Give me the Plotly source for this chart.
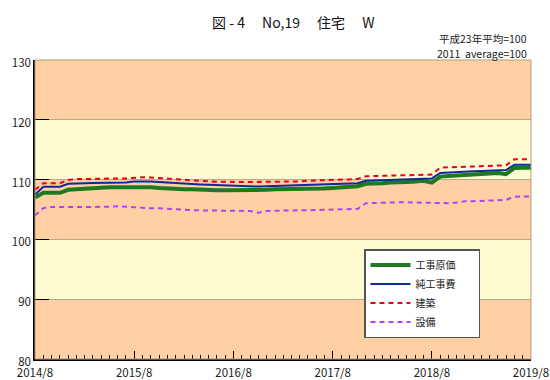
import plotly.graph_objects as go
import pandas as pd

months = pd.date_range("2014-08-01", periods=61, freq="MS")

koji_genka = [107.0, 107.8, 107.8, 107.8, 108.3, 108.4, 108.5, 108.6, 108.7, 108.7,
              108.7, 108.7, 108.8, 108.7, 108.7, 108.6, 108.5, 108.5, 108.4, 108.4,
              108.3, 108.3, 108.2, 108.2, 108.2, 108.2, 108.2, 108.3, 108.3, 108.4,
              108.4, 108.45, 108.4, 108.35, 108.4, 108.5, 108.6, 108.7, 108.8, 108.9,
              109.3, 109.3, 109.4, 109.5, 109.5, 109.6, 109.7, 109.8, 109.5, 110.5,
              110.6, 110.7, 110.8, 110.8, 110.9, 111.0, 111.1, 110.9, 111.95, 112.0,
              112.0]
jun_kojihi = [107.5, 108.8, 108.8, 108.8, 109.3, 109.4, 109.4, 109.45, 109.45, 109.5,
              109.5, 109.5, 109.7, 109.75, 109.7, 109.6, 109.5, 109.4, 109.35, 109.3,
              109.2, 109.15, 109.1, 109.0, 108.95, 108.9, 108.85, 108.85, 108.9, 108.95,
              109.0, 108.95, 109.0, 109.05, 109.1, 109.15, 109.2, 109.3, 109.35, 109.4,
              109.8, 109.85, 109.9, 110.0, 110.05, 110.1, 110.2, 110.2, 110.2, 111.1,
              111.2, 111.25, 111.3, 111.4, 111.45, 111.5, 111.6, 111.6, 112.5, 112.5,
              112.5]
kenchiku = [108.3, 109.4, 109.4, 109.4, 109.95, 110.1, 110.1, 110.15, 110.15, 110.2,
            110.2, 110.2, 110.35, 110.4, 110.35, 110.25, 110.1, 110.0, 109.9, 109.85,
            109.75, 109.7, 109.65, 109.6, 109.6, 109.6, 109.6, 109.6, 109.6, 109.6,
            109.6, 109.6, 109.7, 109.8, 109.85, 109.9, 109.95, 110.0, 110.0, 110.1,
            110.55, 110.6, 110.65, 110.7, 110.75, 110.8, 110.85, 110.85, 110.85, 112.0,
            112.05, 112.1, 112.2, 112.25, 112.3, 112.35, 112.4, 112.4, 113.4, 113.4,
            113.4]
setsubi = [104.0, 105.25, 105.4, 105.4, 105.4, 105.4, 105.4, 105.4, 105.4, 105.45,
           105.55, 105.45, 105.3, 105.25, 105.2, 105.2, 105.1, 105.0, 104.95, 104.9,
           104.85, 104.8, 104.8, 104.8, 104.8, 104.8, 104.75, 104.45, 104.75, 104.8,
           104.8, 104.8, 104.85, 104.85, 104.9, 104.95, 105.0, 105.05, 105.05, 105.1,
           106.05, 106.1, 106.2, 106.2, 106.2, 106.2, 106.15, 106.15, 106.05, 106.05,
           106.05, 106.15, 106.4, 106.4, 106.45, 106.6, 106.6, 106.6, 107.15, 107.2,
           107.2]

series_names = ["工事原価", "純工事費", "建築", "設備"]
x_tick_dates = ["2014-08-01", "2015-08-01", "2016-08-01", "2017-08-01", "2018-08-01", "2019-08-01"]
x_tick_labels = ["2014/8", "2015/8", "2016/8", "2017/8", "2018/8", "2019/8"]
y_ticks = [80, 90, 100, 110, 120, 130]
title_text = "図 - 4\u3000 No,19\u3000 住宅\u3000 W"
note_line1 = "平成23年平均=100"
note_line2 = "2011\u00a0\u00a0average=100"

PEACH = "#fed0a3"
YELLOW = "#fefbd0"
pad = "\u00a0" * 8
font_main = "Noto Sans CJK JP, Noto Sans, sans-serif"

fig = go.Figure()
fig.add_trace(go.Scatter(x=months, y=koji_genka, mode="lines", name=series_names[0] + pad,
                         line=dict(color="#1f7a1f", width=4)))
fig.add_trace(go.Scatter(x=months, y=jun_kojihi, mode="lines", name=series_names[1] + pad,
                         line=dict(color="#0b2a9c", width=2)))
fig.add_trace(go.Scatter(x=months, y=kenchiku, mode="lines", name=series_names[2] + pad,
                         line=dict(color="#e6001a", width=2, dash="5px,4px")))
fig.add_trace(go.Scatter(x=months, y=setsubi, mode="lines", name=series_names[3] + pad,
                         line=dict(color="#b040f5", width=2, dash="5px,4px")))

shapes = []
for lo, hi in [(90, 100), (110, 120)]:
    shapes.append(dict(type="rect", xref="paper", yref="y", x0=0, x1=1, y0=lo, y1=hi,
                       fillcolor=YELLOW, line=dict(width=0), layer="below"))
shapes.append(dict(type="rect", xref="paper", yref="paper", x0=0, x1=1, y0=0, y1=1,
                   fillcolor="rgba(0,0,0,0)", line=dict(color="#b89a80", width=1), layer="above"))

W0, W1, H0, H1 = 35, 531, 60, 359
def px(xp):
    return (xp - W0) / (W1 - W0)
def py(yp):
    return (H1 - yp) / (H1 - H0)

fig.update_layout(
    width=550, height=380,
    margin=dict(l=W0, r=550 - W1, t=H0, b=380 - H1, autoexpand=False),
    paper_bgcolor="white",
    plot_bgcolor=PEACH,
    font=dict(family=font_main, size=11, color="#222"),
    shapes=shapes,
    showlegend=True,
    legend=dict(x=px(364), y=py(249), xanchor="left", yanchor="top",
                bgcolor="white", bordercolor="#555", borderwidth=1.5,
                font=dict(size=10, color="#222", family=font_main),
                itemwidth=40, tracegroupgap=0),
    annotations=[
        dict(text=title_text, x=px(293), y=py(22), xref="paper", yref="paper",
             xanchor="center", yanchor="middle", showarrow=False,
             font=dict(size=14, color="#111", family=font_main)),
        dict(text=note_line1, xref="paper", yref="paper", x=px(529), y=py(38),
             xanchor="right", yanchor="middle", align="right", showarrow=False,
             font=dict(size=10.5, color="#222", family=font_main)),
        dict(text=note_line2, xref="paper", yref="paper", x=px(529), y=py(53),
             xanchor="right", yanchor="middle", align="right", showarrow=False,
             font=dict(size=10.5, color="#222", family=font_main)),
    ],
)

fig.update_xaxes(
    range=["2014-08-01", "2019-08-01"], automargin=False,
    tickmode="array", tickvals=x_tick_dates, ticktext=x_tick_labels,
    ticks="inside", ticklen=8, tickcolor="black", tickwidth=1,
    ticklabeloverflow="allow", ticklabelstandoff=2,
    minor=dict(dtick="M1", tick0="2014-08-01", ticks="inside", ticklen=4, tickcolor="black", showgrid=False),
    showgrid=False, showline=True, linecolor="black", linewidth=1.5,
    tickfont=dict(size=11.5, color="#222"), zeroline=False,
)
fig.update_yaxes(
    range=[80, 130], tickmode="array", tickvals=y_ticks, automargin=False,
    ticks="inside", ticklen=14, tickcolor="black", tickwidth=1,
    ticklabelshift=3,
    showgrid=True, gridcolor="#b8a890", gridwidth=1,
    showline=True, linecolor="black", linewidth=1.5,
    tickfont=dict(size=11.5, color="#222"), zeroline=False,
)

fig.write_html("out.html", config={"displayModeBar": False},
               post_script="document.body.style.margin='0';")
